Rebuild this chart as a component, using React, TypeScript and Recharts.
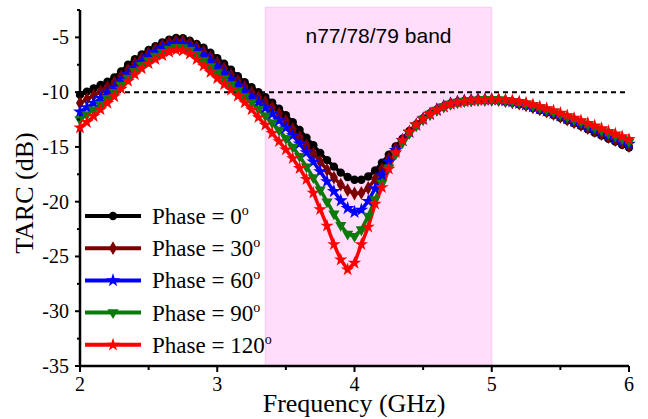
import { LineChart, Line, XAxis, YAxis, ReferenceArea, ReferenceLine, Legend, Symbols } from 'recharts'

const SERIF = '"Liberation Serif", "Times New Roman", serif'
const SANS = '"Liberation Sans", Arial, sans-serif'

// frequency points (GHz)
const freqs = [
  2.0, 2.05, 2.1, 2.15, 2.2, 2.25, 2.3, 2.35, 2.4, 2.45, 2.5, 2.55, 2.6, 2.65, 2.7, 2.75, 2.8, 2.85, 2.9, 2.95,
  3.0, 3.05, 3.1, 3.15, 3.2, 3.25, 3.3, 3.35, 3.4, 3.45, 3.5, 3.55, 3.6, 3.65, 3.7, 3.75, 3.8, 3.85, 3.9, 3.95,
  4.0, 4.05, 4.1, 4.15, 4.2, 4.25, 4.3, 4.35, 4.4, 4.45, 4.5, 4.55, 4.6, 4.65, 4.7, 4.75, 4.8, 4.85, 4.9, 4.95,
  5.0, 5.05, 5.1, 5.15, 5.2, 5.25, 5.3, 5.35, 5.4, 5.45, 5.5, 5.55, 5.6, 5.65, 5.7, 5.75, 5.8, 5.85, 5.9, 5.95,
  6.0,
]

const phase0 = [
  -10.25, -9.95, -9.65, -9.35, -9.05, -8.65, -8.1, -7.5, -7.0, -6.55, -6.15, -5.8, -5.45, -5.2, -5.05, -5.08, -5.3, -5.6, -5.95, -6.4,
  -6.9, -7.4, -7.95, -8.55, -9.1, -9.55, -10.0, -10.45, -10.95, -11.5, -12.1, -12.75, -13.45, -14.15, -14.85, -15.55, -16.2, -16.8, -17.35, -17.75,
  -18.0, -18.0, -17.7, -17.15, -16.45, -15.7, -14.95, -14.25, -13.55, -12.95, -12.4, -11.95, -11.6, -11.3, -11.05, -10.9, -10.8, -10.75, -10.7, -10.7,
  -10.7, -10.75, -10.85, -10.95, -11.1, -11.25, -11.45, -11.65, -11.85, -12.1, -12.35, -12.6, -12.85, -13.1, -13.4, -13.7, -13.95, -14.25, -14.5, -14.8,
  -15.05,
]

const phase30 = [
  -11.0, -10.65, -10.3, -9.95, -9.55, -9.1, -8.55, -7.95, -7.4, -6.9, -6.45, -6.05, -5.7, -5.45, -5.32, -5.35, -5.55, -5.9, -6.3, -6.8,
  -7.3, -7.85, -8.4, -8.95, -9.5, -10.0, -10.45, -10.9, -11.4, -11.95, -12.6, -13.35, -14.1, -14.85, -15.6, -16.35, -17.1, -17.8, -18.45, -18.95,
  -19.25, -19.2, -18.75, -17.95, -17.0, -16.05, -15.15, -14.35, -13.65, -13.0, -12.45, -12.0, -11.6, -11.3, -11.05, -10.9, -10.8, -10.75, -10.7, -10.7,
  -10.7, -10.73, -10.82, -10.92, -11.05, -11.2, -11.38, -11.57, -11.77, -12.0, -12.25, -12.5, -12.75, -13.0, -13.28, -13.55, -13.82, -14.1, -14.37, -14.65,
  -14.92,
]

const phase60 = [
  -11.8, -11.4, -11.0, -10.55, -10.05, -9.55, -8.95, -8.35, -7.75, -7.2, -6.75, -6.35, -6.0, -5.75, -5.62, -5.65, -5.85, -6.2, -6.65, -7.15,
  -7.7, -8.25, -8.8, -9.35, -9.9, -10.45, -10.95, -11.45, -12.0, -12.6, -13.25, -13.95, -14.7, -15.5, -16.35, -17.25, -18.15, -19.05, -19.9, -20.6,
  -20.95, -20.75, -19.95, -18.8, -17.55, -16.35, -15.3, -14.4, -13.65, -13.0, -12.45, -12.0, -11.6, -11.3, -11.05, -10.9, -10.8, -10.75, -10.7, -10.7,
  -10.68, -10.7, -10.77, -10.87, -11.0, -11.15, -11.32, -11.5, -11.7, -11.92, -12.15, -12.4, -12.63, -12.88, -13.14, -13.4, -13.66, -13.92, -14.2, -14.46,
  -14.73,
]

const phase90 = [
  -12.5, -12.05, -11.6, -11.1, -10.55, -10.0, -9.35, -8.7, -8.1, -7.55, -7.1, -6.7, -6.35, -6.05, -5.9, -5.92, -6.15, -6.55, -7.1, -7.65,
  -8.2, -8.75, -9.3, -9.85, -10.4, -10.95, -11.55, -12.15, -12.8, -13.45, -14.2, -15.0, -15.85, -16.8, -17.8, -18.9, -20.0, -21.1, -22.15, -22.95,
  -23.15, -22.55, -21.3, -19.8, -18.3, -16.9, -15.65, -14.6, -13.75, -13.05, -12.45, -12.0, -11.62, -11.32, -11.07, -10.9, -10.8, -10.75, -10.7, -10.68,
  -10.67, -10.68, -10.73, -10.82, -10.93, -11.07, -11.23, -11.4, -11.6, -11.8, -12.03, -12.27, -12.5, -12.73, -12.98, -13.23, -13.48, -13.73, -14.0, -14.25,
  -14.52,
]

const phase120 = [
  -13.25, -12.75, -12.2, -11.6, -11.0, -10.4, -9.7, -9.0, -8.4, -7.85, -7.4, -7.0, -6.65, -6.35, -6.15, -6.2, -6.5, -7.0, -7.6, -8.2,
  -8.75, -9.3, -9.8, -10.35, -10.95, -11.6, -12.3, -13.0, -13.75, -14.5, -15.25, -16.05, -16.95, -17.95, -19.2, -20.7, -22.2, -23.9, -25.3, -26.2,
  -25.6, -23.9, -22.3, -20.2, -18.7, -17.0, -15.5, -14.4, -13.6, -12.95, -12.45, -12.0, -11.65, -11.35, -11.1, -10.95, -10.85, -10.78, -10.72, -10.68,
  -10.65, -10.65, -10.68, -10.75, -10.85, -10.97, -11.12, -11.3, -11.48, -11.68, -11.9, -12.12, -12.35, -12.58, -12.82, -13.05, -13.3, -13.55, -13.8, -14.05,
  -14.3,
]

const seriesKeys = ['p0', 'p30', 'p60', 'p90', 'p120']
const seriesPhases = ['0', '30', '60', '90', '120']
const xTicks = [2, 2.5, 3, 3.5, 4, 4.5, 5, 5.5, 6]
const yTicks = [-35, -32.5, -30, -27.5, -25, -22.5, -20, -17.5, -15, -12.5, -10, -7.5, -5, -2.5]
const bandRange = [3.35, 5.0]
const bandLabel = 'n77/78/79 band'
const threshold = -10

const seriesStyle = [
  { color: '#000000', symbol: 'circle', size: 55, flip: false },
  { color: '#7B0000', symbol: 'diamond', size: 55, flip: false },
  { color: '#0000FF', symbol: 'star', size: 60, flip: false },
  { color: '#0A7A0A', symbol: 'triangle', size: 55, flip: true },
  { color: '#FF0000', symbol: 'star', size: 55, flip: false },
]

const data = freqs.map((f, i) => ({
  f,
  p0: phase0[i],
  p30: phase30[i],
  p60: phase60[i],
  p90: phase90[i],
  p120: phase120[i],
}))

function Marker({ cx, cy, style }: any) {
  if (cx == null || cy == null) return null
  return (
    <g transform={style.flip ? `rotate(180 ${cx} ${cy})` : undefined}>
      <Symbols cx={cx} cy={cy} type={style.symbol} size={style.size} fill={style.color} />
    </g>
  )
}

const makeDot = (style: any) => (props: any) => (
  <Marker key={`d-${props.index}`} cx={props.cx} cy={props.cy} style={style} />
)

function XTick({ x, y, payload }: any) {
  const major = Number.isInteger(payload.value)
  return (
    <g>
      <line x1={x} x2={x} y1={y} y2={y + (major ? 6 : 4)} stroke="#000" strokeWidth={2} />
      {major && (
        <text x={x} y={y + 25} textAnchor="middle" fontSize={20} fontFamily={SERIF} fill="#000">
          {payload.value}
        </text>
      )}
    </g>
  )
}

function YTick({ x, y, payload }: any) {
  const major = Number.isInteger(payload.value)
  return (
    <g>
      <line x1={x - (major ? 5 : 3)} x2={x} y1={y} y2={y} stroke="#000" strokeWidth={2} />
      {major && (
        <text x={x - 11} y={y + 7} textAnchor="end" fontSize={20} fontFamily={SERIF} fill="#000">
          {payload.value}
        </text>
      )}
    </g>
  )
}

function LegendBox() {
  return (
    <svg width={260} height={170} style={{ display: 'block', overflow: 'visible' }}>
      {seriesStyle.map((s, i) => {
        const y = 10 + i * 32.2
        return (
          <g key={seriesKeys[i]}>
            <line x1={0} x2={56} y1={y} y2={y} stroke={s.color} strokeWidth={4} />
            <Marker cx={28} cy={y} style={s} />
            <text x={67} y={y + 8} fontSize={23} fontFamily={SERIF} fill="#000">
              Phase = {seriesPhases[i]}
              <tspan dy={-9} fontSize={14}>o</tspan>
            </text>
          </g>
        )
      })}
    </svg>
  )
}

export default function App() {
  return (
    <div style={{ position: 'absolute', left: 0, top: 0, background: '#fff' }}>
      <LineChart width={648} height={419} data={data} margin={{ top: 10, right: 19, bottom: 0, left: 0 }}>
        <ReferenceArea
          x1={bandRange[0]}
          x2={bandRange[1]}
          y1={-35}
          y2={-2.25}
          ifOverflow="visible"
          fill="#FFDDFB"
          fillOpacity={1}
          stroke="#FFC6F4"
          strokeWidth={1}
          label={{ value: bandLabel, position: 'insideTop', offset: 21, fontSize: 21, fontFamily: SANS, fill: '#000' }}
        />
        <XAxis
          type="number"
          dataKey="f"
          domain={[2, 6]}
          ticks={xTicks}
          interval={0}
          height={53}
          tickSize={0}
          tickMargin={0}
          tickLine={false}
          axisLine={{ stroke: '#000', strokeWidth: 2.5 }}
          tick={<XTick />}
          label={() => (
            <text x={354} y={412} textAnchor="middle" fontSize={26} fontFamily={SERIF} fill="#000">
              Frequency (GHz)
            </text>
          )}
        />
        <YAxis
          type="number"
          domain={[-35, -2.5]}
          ticks={yTicks}
          interval={0}
          width={80}
          tickSize={0}
          tickMargin={0}
          tickLine={false}
          axisLine={{ stroke: '#000', strokeWidth: 2.5 }}
          tick={<YTick />}
          label={() => (
            <text
              x={33}
              y={193}
              transform="rotate(-90 33 193)"
              textAnchor="middle"
              fontSize={26}
              fontFamily={SERIF}
              fill="#000"
            >
              TARC (dB)
            </text>
          )}
        />
        {seriesKeys.map((k, i) => (
          <Line
            key={k}
            dataKey={k}
            type="linear"
            stroke={seriesStyle[i].color}
            strokeWidth={3.5}
            dot={makeDot(seriesStyle[i])}
            activeDot={false}
            isAnimationActive={false}
          />
        ))}
        <ReferenceLine y={threshold} stroke="#000" strokeWidth={2} strokeDasharray="5 4" zIndex={450} />
        <Legend
          layout="vertical"
          align="center"
          verticalAlign="middle"
          content={() => <LegendBox />}
          wrapperStyle={{ position: 'absolute', left: 85, top: 206, width: 260, height: 170 }}
        />
      </LineChart>
    </div>
  )
}
